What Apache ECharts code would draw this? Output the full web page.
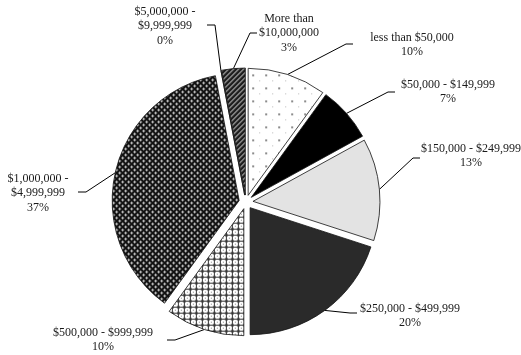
<!DOCTYPE html>
<html>
<head>
<meta charset="utf-8">
<script src="https://cdn.jsdelivr.net/npm/echarts@6/dist/echarts.min.js"></script>
<style>
  html, body { margin: 0; padding: 0; background: #fff; }
  #chart { width: 521px; height: 355px; }
</style>
</head>
<body>
<div id="chart"></div>
<script>
// Net worth brackets, clockwise from 12 o'clock
const categories = [
  'less than $50,000',
  '$50,000 - $149,999',
  '$150,000 - $249,999',
  '$250,000 - $499,999',
  '$500,000 - $999,999',
  '$1,000,000 -\n$4,999,999',
  '$5,000,000 -\n$9,999,999',
  'More than\n$10,000,000'
];
const shares = [10, 7, 13, 20, 10, 37, 0, 3];

// Label block centres (px)
const labelSpots = [
  [412, 45], [448, 92], [471, 156], [410, 316],
  [103, 340], [38, 193], [165, 26], [289, 33]
];
// Where each leader line meets its label (px)
const leaderEnds = [
  [353, 44], [395, 92], [420, 158], [357, 313],
  [167, 340], [78, 192], [207, 25], [257, 33]
];

const EXPLODE = 7;
const FONT = 'Liberation Serif';

function tile(w, h, draw) {
  const c = document.createElement('canvas');
  c.width = w; c.height = h;
  const g = c.getContext('2d');
  draw(g);
  return { image: c, repeat: 'repeat' };
}
function px(g, color, pts) {
  g.fillStyle = color;
  pts.forEach(p => g.fillRect(p[0], p[1], 1, 1));
}

const dotted = tile(13, 13, g => {
  g.fillStyle = '#fff'; g.fillRect(0, 0, 13, 13);
  g.fillStyle = '#8c8c8c'; g.fillRect(3, 3, 2, 2);
  g.fillStyle = '#b8b8b8'; g.fillRect(10, 9, 1, 1);
});
const stripes = tile(5, 5, g => {
  g.fillStyle = '#1e1e1e'; g.fillRect(0, 0, 5, 5);
  px(g, '#b0b0b0', [[0, 4], [1, 3], [2, 2], [3, 1], [4, 0]]);
  px(g, '#6a6a6a', [[1, 4], [2, 3], [3, 2], [4, 1], [0, 0]]);
});
// dark ground with light crosses
const darkLattice = tile(6, 6, g => {
  g.fillStyle = '#111'; g.fillRect(0, 0, 6, 6);
  px(g, '#f2f2f2', [[0, 0], [3, 3]]);
  px(g, '#a8a8a8', [[1, 0], [0, 1], [5, 0], [0, 5], [3, 2], [2, 3], [4, 3], [3, 4]]);
});
// light ground with dark grid
const lightLattice = tile(6, 6, g => {
  g.fillStyle = '#ffffff'; g.fillRect(0, 0, 6, 6);
  g.fillStyle = '#333'; g.fillRect(0, 0, 6, 1); g.fillRect(0, 0, 1, 6);
  px(g, '#8a8a8a', [[3, 3], [1, 1], [5, 1], [1, 5], [5, 5]]);
});

const fills = [dotted, '#000000', '#e3e3e3', '#2a2a2a', lightLattice, darkLattice, stripes, stripes];

const chart = echarts.init(document.getElementById('chart'), null, { renderer: 'canvas' });
chart.setOption({
  animation: false,
  backgroundColor: '#fff',
  series: [{
    type: 'pie',
    center: [246, 202],
    radius: [0, 127],
    startAngle: 90,
    clockwise: true,
    selectedMode: 'multiple',
    selectedOffset: EXPLODE,
    silent: true,
    itemStyle: { borderColor: '#111', borderWidth: 0.8 },
    emphasis: { disabled: true },
    label: { show: false },
    labelLine: { show: false },
    data: categories.map((name, i) => ({
      name: name,
      value: shares[i],
      selected: true,
      itemStyle: { color: fills[i] }
    }))
  }]
});

// Labels and leader lines, anchored on each slice's outer arc midpoint
const sliceData = chart.getModel().getSeriesByIndex(0).getData();
const graphics = [];
categories.forEach((name, i) => {
  const lay = sliceData.getItemLayout(i);
  const mid = (lay.startAngle + lay.endAngle) / 2;
  const R = lay.r + EXPLODE;
  const ax = lay.cx + R * Math.cos(mid);
  const ay = lay.cy + R * Math.sin(mid);
  const end = leaderEnds[i];
  const elbowX = end[0] + (end[0] > ax ? -7 : 8);
  graphics.push({
    type: 'polyline',
    silent: true,
    shape: { points: [[ax, ay], [elbowX, end[1]], end] },
    style: { stroke: '#000', lineWidth: 1, fill: null }
  });
  graphics.push({
    type: 'text',
    silent: true,
    x: labelSpots[i][0],
    y: labelSpots[i][1],
    style: {
      text: name + '\n' + shares[i] + '%',
      fontFamily: FONT,
      fontSize: 12,
      lineHeight: 14.5,
      fill: '#1a1a1a',
      align: 'center',
      verticalAlign: 'middle'
    }
  });
});
chart.setOption({ graphic: { elements: graphics } });
</script>
</body>
</html>
